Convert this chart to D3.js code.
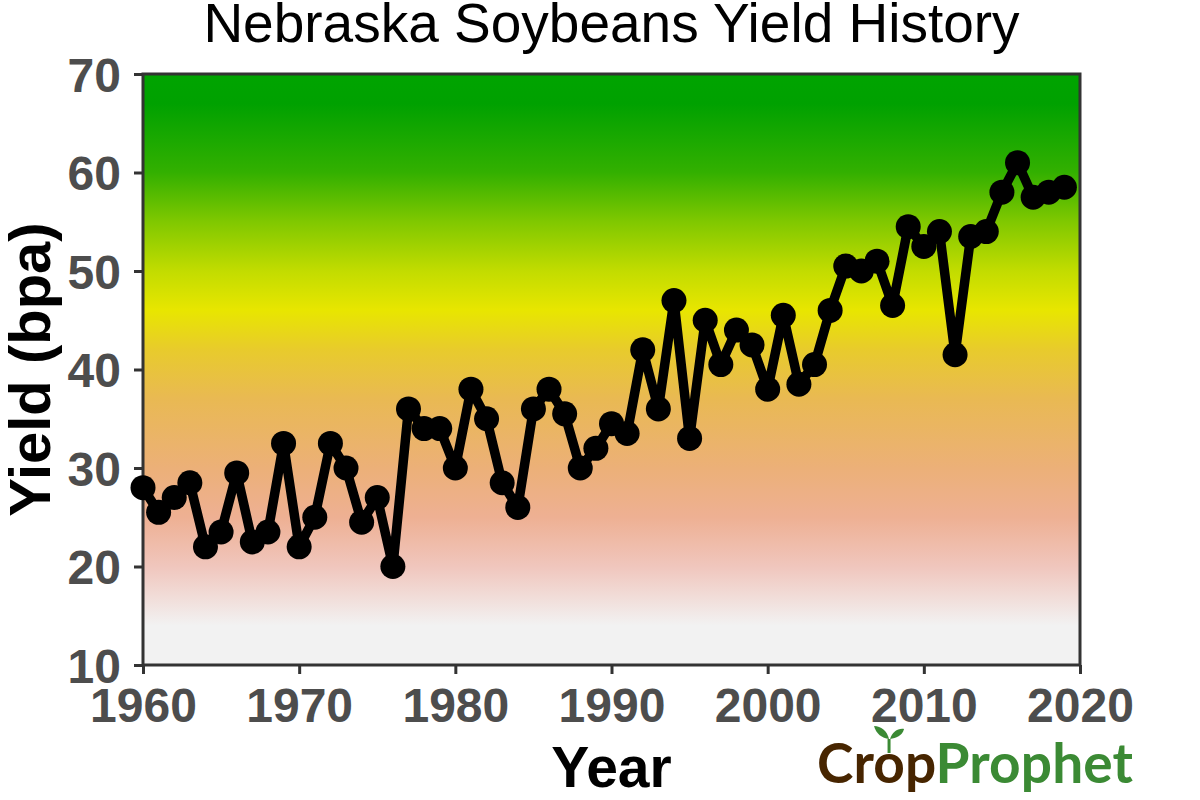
<!DOCTYPE html>
<html>
<head>
<meta charset="utf-8">
<script src="https://cdn.jsdelivr.net/npm/d3@7"></script>
<style>
  body { margin: 0; background: #fff; }
  svg { display: block; }
</style>
</head>
<body>
<div id="chart"></div>
<script>
// yearly yield, bushels per acre
const years = d3.range(1960, 2020);
const yields = [
  28, 25.5, 27, 28.5, 22, 23.5, 29.5, 22.5, 23.5, 32.5,
  22, 25, 32.5, 30, 24.5, 27, 20, 36, 34, 34,
  30, 38, 35, 28.5, 26, 36, 38, 35.5, 30, 32,
  34.5, 33.5, 42, 36, 47, 33, 45, 40.5, 44, 42.5,
  38, 45.5, 38.5, 40.5, 46, 50.5, 50, 51, 46.5, 54.5,
  52.5, 54, 41.5, 53.5, 54, 58, 61, 57.5, 58, 58.5
];
const xTicks = [1960, 1970, 1980, 1990, 2000, 2010, 2020];
const yTicks = [10, 20, 30, 40, 50, 60, 70];

// background gradient stops (yield value -> colour)
const bgValues = [70, 67, 60, 55, 50, 46, 42, 37, 30, 25, 20, 14, 10];
const bgColors = ["#00a400", "#00a100", "#33b000", "#80c800", "#c2dc00", "#e8e600",
  "#e8cb2c", "#e9b953", "#ecb078", "#eeb093", "#f0c6bd", "#f2f2f2", "#f2f2f2"];

const width = 1200, height = 800;
const margin = { top: 74, right: 120, bottom: 135, left: 143 };
const font = "Liberation Sans, Arial, sans-serif";

const svg = d3.select("#chart").append("svg")
  .attr("width", width)
  .attr("height", height);

const x = d3.scaleLinear().domain([1960, 2020]).range([margin.left, width - margin.right]);
const y = d3.scaleLinear().domain([10, 70]).range([height - margin.bottom, margin.top]);

//gradient fill for the panel
const grad = svg.append("defs").append("linearGradient")
  .attr("id", "bg")
  .attr("gradientUnits", "userSpaceOnUse")
  .attr("x1", 0).attr("x2", 0)
  .attr("y1", y(70)).attr("y2", y(10));
bgValues.forEach((v, i) => {
  grad.append("stop")
    .attr("offset", (y(v) - y(70)) / (y(10) - y(70)))
    .attr("stop-color", bgColors[i]);
});

svg.append("rect")
  .attr("x", x(1960)).attr("y", y(70))
  .attr("width", x(2020) - x(1960))
  .attr("height", y(10) - y(70))
  .attr("fill", "url(#bg)");

//axes
const xAxis = svg.append("g")
  .attr("transform", `translate(0,${y(10)})`)
  .call(d3.axisBottom(x).tickValues(xTicks).tickFormat(d3.format("d")).tickSizeOuter(0).tickSize(9).tickPadding(13));
const yAxis = svg.append("g")
  .attr("transform", `translate(${x(1960)},0)`)
  .call(d3.axisLeft(y).tickValues(yTicks).tickSizeOuter(0).tickSize(9).tickPadding(13));

[xAxis, yAxis].forEach(a => {
  a.select(".domain").remove();
  a.selectAll(".tick line").attr("stroke", "#333").attr("stroke-width", 3);
  a.selectAll(".tick text")
    .attr("fill", "#4d4d4d")
    .attr("font-family", font)
    .attr("font-weight", "bold")
    .attr("font-size", 48);
});
xAxis.selectAll(".tick text").attr("dy", "0.72em");
yAxis.selectAll(".tick text").attr("dy", "0.36em");

//panel border
svg.append("rect")
  .attr("x", x(1960)).attr("y", y(70))
  .attr("width", x(2020) - x(1960))
  .attr("height", y(10) - y(70))
  .attr("fill", "none")
  .attr("stroke", "#333")
  .attr("stroke-width", 3);

//line + points
const pts = years.map((yr, i) => ({ year: yr, value: yields[i] }));

svg.append("path")
  .datum(pts)
  .attr("fill", "none")
  .attr("stroke", "#000")
  .attr("stroke-width", 9.5)
  .attr("stroke-linejoin", "round")
  .attr("d", d3.line().x(d => x(d.year)).y(d => y(d.value)));

svg.append("g").selectAll("circle")
  .data(pts)
  .join("circle")
  .attr("cx", d => x(d.year))
  .attr("cy", d => y(d.value))
  .attr("r", 12.5)
  .attr("fill", "#000");

//titles
svg.append("text")
  .attr("x", (x(1960) + x(2020)) / 2)
  .attr("y", 42)
  .attr("text-anchor", "middle")
  .attr("font-family", font)
  .attr("font-size", 55)
  .attr("fill", "#000")
  .text("Nebraska Soybeans Yield History");

svg.append("text")
  .attr("x", (x(1960) + x(2020)) / 2)
  .attr("y", 787)
  .attr("text-anchor", "middle")
  .attr("font-family", font)
  .attr("font-weight", "bold")
  .attr("font-size", 57)
  .attr("fill", "#000")
  .text("Year");

svg.append("text")
  .attr("transform", `translate(50,${(y(10) + y(70)) / 2}) rotate(-90)`)
  .attr("text-anchor", "middle")
  .attr("font-family", font)
  .attr("font-weight", "bold")
  .attr("font-size", 58)
  .attr("fill", "#000")
  .text("Yield (bpa)");

//logo
const logo = svg.append("g").attr("transform", "translate(817,783)");
const logoText = logo.append("text")
  .attr("font-family", "Lato, Open Sans, sans-serif")
  .attr("font-weight", "bold")
  .attr("font-size", 55);
logoText.append("tspan").attr("fill", "#472500").text("Crop");
logoText.append("tspan").attr("fill", "#3b8a34").text("Prophet");

//stretch to the reference logo width
const logoW = logoText.node().getComputedTextLength();
logoText.attr("textLength", 316).attr("lengthAdjust", "spacing");

//little sprout above the "o"
const oStart = logoText.node().getSubStringLength(0, 2) * 316 / logoW;
const oW = logoText.node().getSubStringLength(2, 1);
const sprout = logo.append("g")
  .attr("transform", `translate(${oStart + oW / 2},-44)`)
  .attr("fill", "#3b8a34");
sprout.append("path").attr("d", "M0,0 C-2,-8 -8,-13 -15,-13 C-13,-5 -7,-1 0,0 Z");
sprout.append("path").attr("d", "M1,0 C3,-7 9,-11 15,-10 C13,-3 7,-1 1,0 Z");
sprout.append("path").attr("d", "M0,0 L0,14").attr("stroke", "#3b8a34").attr("stroke-width", 3);
</script>
</body>
</html>
